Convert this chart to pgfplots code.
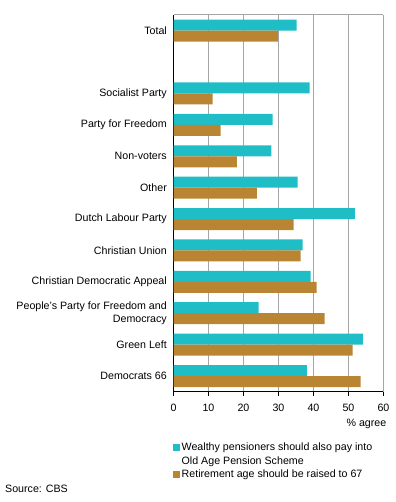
\documentclass[border=0pt]{standalone}
\usepackage{fontspec}
\setmainfont{Liberation Sans}
\usepackage{pgfplots}
\pgfplotsset{compat=1.18}
\definecolor{cbsteal}{RGB}{31,189,198}
\definecolor{cbsbrown}{RGB}{186,133,50}
\definecolor{gridgray}{RGB}{165,165,165}
\newcommand\cf{\fontsize{10.7}{13.5}\selectfont}
\begin{document}
\cf
\begin{tikzpicture}
\path[use as bounding box] (0bp,0bp) rectangle (396bp,502bp);
\begin{axis}[
  at={(173.5bp,110.3bp)}, anchor=south west,
  width=210bp, height=376.7bp, scale only axis,
  xmin=0, xmax=60, ymin=-0.5, ymax=11.5,
  xtick={0,10,...,60}, ytick={0,1,2,3,4,5,6,7,8,9,11},
  yticklabels={Democrats 66, Green Left, {People's Party for Freedom and\\Democracy}, Christian Democratic Appeal, Christian Union, Dutch Labour Party, Other, Non-voters, Party for Freedom, Socialist Party, Total},
  yticklabel style={align=right, font=\cf, inner sep=0pt, xshift=-2.5bp},
  xticklabel style={font=\cf, inner sep=0pt, yshift=-8bp},
  /pgf/number format/assume math mode=true,
  axis lines=left,
  axis line style={-, black, line width=1bp},
  xmajorgrids, grid style={gridgray, line width=1bp},
  tick align=outside, major tick length=4bp,
  ytick style={draw=none}, xtick style={black, line width=1bp},
  xlabel={\% agree},
  xlabel style={at={(axis description cs:1,0)}, anchor=north east, inner sep=0pt, yshift=-27bp, xshift=3bp, font=\cf},
  xbar, bar width=11bp,
  legend style={at={(axis description cs:0,0)}, anchor=north west, yshift=-49bp, xshift=-1bp, draw=none, fill=none, inner sep=0pt, font=\cf, cells={anchor=west, align=left}, row sep=0pt},
  legend image code/.code={\draw[#1, draw=none] (0bp,-3.5bp) rectangle (7bp,3.5bp);},
  after end axis/.code={\draw[gridgray, line width=1bp] (axis description cs:0,1) -- (axis description cs:1,1);},
]
\addplot[fill=cbsteal, draw=none, bar shift=5.5bp,
  legend image code/.code={\fill[cbsteal] (0bp,3.25bp) rectangle (7bp,10.25bp);}]
  coordinates {(38.1,0) (54.1,1) (24.3,2) (39.2,3) (36.9,4) (51.8,5) (35.5,6) (28.0,7) (28.3,8) (38.9,9) (35.2,11)};
\addplot[fill=cbsbrown, draw=none, bar shift=-5.5bp]
  coordinates {(53.5,0) (51.2,1) (43.2,2) (40.9,3) (36.3,4) (34.3,5) (23.8,6) (18.1,7) (13.5,8) (11.2,9) (29.8,11)};
\legend{{Wealthy pensioners should also pay into\\Old Age Pension Scheme}, Retirement age should be raised to 67}
\end{axis}
\node[anchor=west, inner sep=0pt, font=\cf] at (5bp,13bp) {Source: CBS};
\end{tikzpicture}
\end{document}
